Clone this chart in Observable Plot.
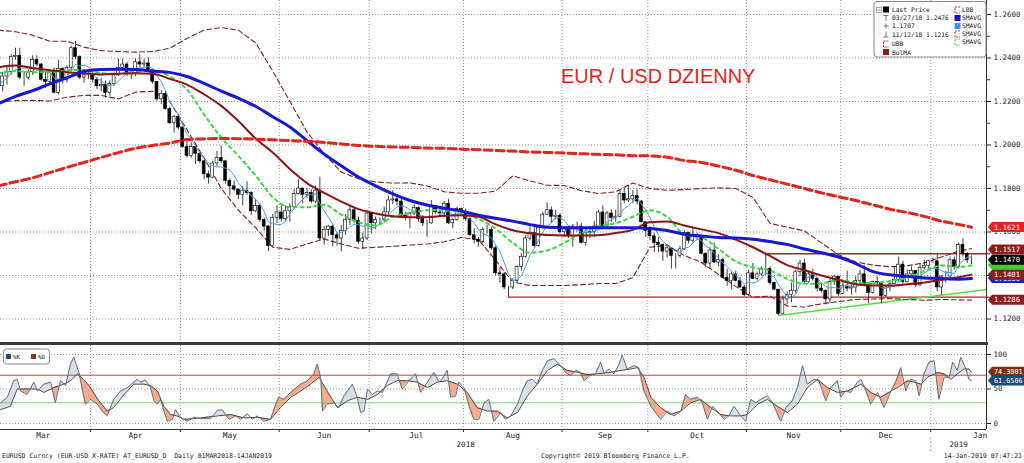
<!DOCTYPE html>
<html><head><meta charset="utf-8">
<script src="https://cdn.jsdelivr.net/npm/d3@7"></script>
<script src="https://cdn.jsdelivr.net/npm/@observablehq/plot@0.6"></script>
<style>
html,body{margin:0;padding:0;background:#fff}
#wrap{position:relative;width:1024px;height:463px;overflow:hidden;background:#fff}
.abs{position:absolute}
#title{left:561px;top:66px;font:20px/20px "Liberation Sans",Arial,sans-serif;color:#e3241b;white-space:nowrap}
.foot{top:451px;font:6.5px/10px "DejaVu Sans Mono",monospace;color:#222;white-space:nowrap}
</style></head>
<body><div id="wrap">
<div id="main" class="abs" style="left:0;top:0"></div>
<div class="abs" style="left:0;top:342px;width:988px;height:3px;background:#3d3d3d"></div>
<div id="stoch" class="abs" style="left:0;top:345px"></div>
<div id="title" class="abs">EUR / USD DZIENNY</div>
<svg class="abs" style="left:870px;top:0" width="122" height="60" font-family="DejaVu Sans Mono" font-size="6.3" fill="#111" text-anchor="start">
 <rect x="4" y="1.5" width="112" height="55.5" rx="3" fill="#fff" stroke="#8a8a8a"/>
 <rect x="6.5" y="7.5" width="5" height="5" fill="#fff" stroke="#888" stroke-width="0.7"/>
 <line x1="7.5" y1="10" x2="10.5" y2="10" stroke="#555" stroke-width="0.7"/>
 <path d="M9 12.5 V37" stroke="#bbb" stroke-dasharray="1,1" stroke-width="0.6"/>
 <rect x="13" y="6.5" width="6" height="6" fill="#000"/>
 <text x="22" y="12">Last Price</text>
 <g stroke="#555" stroke-width="0.8" fill="none"><path d="M13.5 15.5 H18.5 M16 15.5 V21"/><path d="M13.5 26 H18.5 M16 23.5 V28.5"/><path d="M13.5 37 H18.5 M16 31.5 V37"/></g>
 <text x="22" y="20">03/27/18 1.2476</text>
 <text x="22" y="28">1.1707</text>
 <text x="22" y="37">11/12/18 1.1216</text>
 <path d="M18.5 41 H13.5 V47 H18.5" fill="none" stroke="#8b2323" stroke-dasharray="2,1" stroke-width="0.9"/>
 <text x="22" y="46">UBB</text>
 <rect x="13" y="49" width="6" height="6" fill="#8b1c1c"/>
 <text x="22" y="55">BolMA</text>
 <path d="M90 7 H85 V13 H90" fill="none" stroke="#8b2323" stroke-dasharray="2,1" stroke-width="0.9"/>
 <text x="92" y="12">LBB</text>
 <rect x="84.5" y="15" width="6" height="6" fill="#1515d0"/>
 <text x="92" y="20">SMAVG</text>
 <rect x="84.5" y="23" width="6" height="6" fill="#3399ee"/>
 <text x="92" y="28">SMAVG</text>
 <path d="M90 31 H85 V37 H90" fill="none" stroke="#e3231c" stroke-dasharray="2,1" stroke-width="0.9"/>
 <text x="92" y="36">SMAVG</text>
 <path d="M90 39 H85 V45 H90" fill="none" stroke="#44cc44" stroke-dasharray="2,1" stroke-width="0.9"/>
 <text x="92" y="44">SMAVG</text>
</svg>
<div class="abs foot" style="left:2px">EURUSD Curncy (EUR-USD X-RATE) AT_EURUSD_D&nbsp;&nbsp;Daily 01MAR2018-14JAN2019</div>
<div class="abs foot" style="left:541px">Copyright© 2019 Bloomberg Finance L.P.</div>
<div class="abs foot" style="right:2px">14-Jan-2019 07:47:21</div>
</div>
<script>
// ---------- DATA ----------
const monthLabels = ["Mar","Apr","May","Jun","Jul","Aug","Sep","Oct","Nov","Dec","Jan"];
const yearLabels = ["2018","2019"];
const priceTicks = [1.12,1.14,1.16,1.18,1.20,1.22,1.24,1.26];
const priceTickHidden = [1.14]; // label fully covered by price tags in the original
const priceMinorTicks = [1.13,1.15,1.17,1.19,1.21,1.23,1.25];
const stochTicks = [0,50,100];
const firstOpen = 1.2255;
const close = [
1.2270,1.2315,1.2335,1.2405,1.2410,1.2310,1.2310,1.2335,1.2390,1.2370,1.2300,1.2290,1.2335,1.2240,1.2350,1.2300,1.2355,1.2445,1.2405,1.2310,1.2320,1.2320,
1.2300,1.2270,1.2275,1.2240,1.2280,1.2320,1.2355,1.2370,1.2325,1.2330,1.2380,1.2370,1.2375,1.2345,1.2290,1.2210,1.2235,1.2165,1.2100,1.2130,1.2080,
1.1990,1.1950,1.1990,1.1960,1.1925,1.1865,1.1850,1.1915,1.1940,1.1925,1.1835,1.1810,1.1795,1.1770,1.1790,1.1780,1.1695,1.1720,1.1655,1.1625,1.1535,1.1665,1.1690,
1.1660,1.1695,1.1715,1.1775,1.1800,1.1770,1.1780,1.1740,1.1790,1.1570,1.1610,1.1625,1.1585,1.1570,1.1605,1.1655,1.1700,1.1650,1.1555,1.1570,1.1685,
1.1640,1.1655,1.1655,1.1690,1.1745,1.1750,1.1740,1.1675,1.1665,1.1685,1.1710,1.1660,1.1640,1.1640,1.1720,1.1690,1.1685,1.1730,1.1640,1.1655,1.1705,1.1690,
1.1660,1.1585,1.1565,1.1555,1.1610,1.1610,1.1525,1.1410,1.1405,1.1345,1.1345,1.1375,1.1440,1.1485,1.1570,1.1595,1.1535,1.1620,1.1680,1.1700,1.1670,1.1675,1.1600,
1.1620,1.1580,1.1625,1.1625,1.1550,1.1595,1.1600,1.1625,1.1690,1.1625,1.1685,1.1665,1.1670,1.1775,1.1745,1.1750,1.1765,1.1740,1.1645,1.1605,
1.1580,1.1550,1.1540,1.1510,1.1525,1.1490,1.1490,1.1520,1.1595,1.1560,1.1580,1.1575,1.1500,1.1455,1.1515,1.1460,1.1470,1.1390,1.1375,1.1405,1.1375,1.1345,1.1310,
1.1410,1.1385,1.1405,1.1430,1.1430,1.1365,1.1335,1.1223,1.1290,1.1310,1.1330,1.1415,1.1455,1.1370,1.1405,1.1385,1.1340,1.1330,1.1290,1.1370,1.1395,1.1315,
1.1350,1.1340,1.1345,1.1375,1.1405,1.1355,1.1320,1.1370,1.1365,1.1305,1.1345,1.1360,1.1380,1.1450,1.1370,1.1405,1.1420,1.1355,1.1435,1.1445,1.1465,
1.1465,1.1345,1.1395,1.1395,1.1470,1.1440,1.1540,1.1500,1.1470,1.1470];
const high = [
1.2290,1.2335,1.2365,1.2415,1.2445,1.2445,1.2340,1.2345,1.2410,1.2410,1.2375,1.2335,1.2345,1.2355,1.2390,1.2355,1.2365,1.2455,1.2476,1.2410,1.2340,1.2335,
1.2345,1.2310,1.2305,1.2295,1.2295,1.2335,1.2395,1.2395,1.2380,1.2345,1.2395,1.2415,1.2395,1.2400,1.2350,1.2290,1.2250,1.2245,1.2175,1.2135,1.2125,
1.2085,1.2015,1.2010,1.1995,1.1960,1.1930,1.1880,1.1925,1.1970,1.1995,1.1930,1.1845,1.1835,1.1800,1.1810,1.1830,1.1785,1.1750,1.1730,1.1665,1.1630,1.1680,1.1720,
1.1720,1.1720,1.1730,1.1795,1.1840,1.1800,1.1800,1.1795,1.1810,1.1852,1.1625,1.1630,1.1635,1.1600,1.1630,1.1680,1.1720,1.1710,1.1670,1.1595,1.1700,
1.1690,1.1670,1.1665,1.1715,1.1765,1.1790,1.1765,1.1750,1.1690,1.1690,1.1725,1.1715,1.1675,1.1655,1.1745,1.1720,1.1715,1.1740,1.1750,1.1660,1.1715,1.1710,
1.1705,1.1665,1.1615,1.1575,1.1620,1.1630,1.1620,1.1535,1.1435,1.1415,1.1350,1.1385,1.1445,1.1500,1.1585,1.1625,1.1625,1.1630,1.1690,1.1735,1.1715,1.1700,1.1685,
1.1625,1.1625,1.1635,1.1645,1.1640,1.1610,1.1625,1.1650,1.1700,1.1720,1.1695,1.1700,1.1700,1.1790,1.1800,1.1815,1.1790,1.1795,1.1745,1.1645,
1.1625,1.1595,1.1575,1.1545,1.1535,1.1510,1.1500,1.1535,1.1605,1.1600,1.1620,1.1595,1.1580,1.1505,1.1530,1.1550,1.1495,1.1480,1.1430,1.1415,1.1420,1.1390,1.1355,
1.1425,1.1455,1.1415,1.1440,1.1500,1.1440,1.1370,1.1335,1.1305,1.1325,1.1365,1.1425,1.1470,1.1475,1.1420,1.1430,1.1390,1.1360,1.1335,1.1385,1.1400,1.1395,
1.1380,1.1420,1.1355,1.1395,1.1425,1.1445,1.1365,1.1375,1.1395,1.1370,1.1355,1.1370,1.1440,1.1485,1.1465,1.1425,1.1440,1.1420,1.1455,1.1470,1.1470,
1.1480,1.1495,1.1400,1.1420,1.1485,1.1485,1.1550,1.1570,1.1505,1.1490];
const low = [
1.2215,1.2245,1.2275,1.2320,1.2390,1.2300,1.2270,1.2300,1.2320,1.2360,1.2295,1.2260,1.2275,1.2235,1.2230,1.2280,1.2285,1.2340,1.2395,1.2300,1.2285,1.2300,
1.2285,1.2255,1.2245,1.2215,1.2225,1.2270,1.2315,1.2340,1.2315,1.2300,1.2315,1.2355,1.2355,1.2335,1.2280,1.2200,1.2185,1.2160,1.2095,1.2055,1.2070,
1.1985,1.1940,1.1940,1.1910,1.1915,1.1840,1.1820,1.1845,1.1900,1.1915,1.1820,1.1765,1.1785,1.1750,1.1720,1.1770,1.1675,1.1690,1.1645,1.1605,1.1510,1.1535,1.1640,
1.1645,1.1645,1.1645,1.1705,1.1770,1.1730,1.1755,1.1730,1.1730,1.1560,1.1540,1.1580,1.1530,1.1535,1.1510,1.1585,1.1630,1.1640,1.1545,1.1525,1.1560,
1.1590,1.1610,1.1630,1.1640,1.1680,1.1725,1.1720,1.1670,1.1650,1.1615,1.1675,1.1645,1.1625,1.1575,1.1635,1.1680,1.1670,1.1665,1.1635,1.1615,1.1650,1.1680,
1.1650,1.1580,1.1545,1.1530,1.1545,1.1590,1.1515,1.1400,1.1365,1.1335,1.1301,1.1335,1.1365,1.1420,1.1480,1.1560,1.1530,1.1530,1.1610,1.1675,1.1640,1.1655,1.1590,
1.1575,1.1570,1.1530,1.1600,1.1545,1.1535,1.1570,1.1575,1.1615,1.1620,1.1625,1.1645,1.1645,1.1665,1.1730,1.1735,1.1730,1.1725,1.1640,1.1575,
1.1560,1.1505,1.1505,1.1465,1.1480,1.1430,1.1430,1.1480,1.1515,1.1545,1.1550,1.1560,1.1495,1.1435,1.1430,1.1455,1.1440,1.1385,1.1350,1.1335,1.1370,1.1340,1.1302,
1.1305,1.1380,1.1375,1.1395,1.1400,1.1355,1.1330,1.1216,1.1220,1.1265,1.1275,1.1315,1.1395,1.1360,1.1365,1.1375,1.1325,1.1320,1.1265,1.1270,1.1355,1.1305,
1.1315,1.1325,1.1310,1.1320,1.1365,1.1350,1.1270,1.1315,1.1355,1.1270,1.1300,1.1325,1.1360,1.1370,1.1360,1.1365,1.1390,1.1345,1.1350,1.1425,1.1425,
1.1455,1.1325,1.1310,1.1365,1.1375,1.1425,1.1430,1.1485,1.1455,1.1450];

// indicator lines sampled every 4 trading days (trading-day index)
const maDays = [0,4,8,12,16,20,24,28,32,36,40,44,48,52,56,60,64,68,72,76,80,84,88,92,96,100,104,108,112,116,120,124,128,132,136,140,144,148,152,156,160,164,168,172,176,180,184,188,192,196,200,204,208,212,216,220,224,227];
const sma50 = [1.2190,1.2224,1.2250,1.2281,1.2309,1.2338,1.2347,1.2348,1.2347,1.2340,1.2334,1.2315,1.2283,1.2248,1.2215,1.2178,1.2130,1.2083,1.2020,1.1958,1.1905,1.1853,1.1812,1.1775,1.1745,1.1724,1.1709,1.1697,1.1677,1.1663,1.1650,1.1634,1.1622,1.1620,1.1620,1.1620,1.1620,1.1620,1.1616,1.1607,1.1590,1.1582,1.1575,1.1573,1.1567,1.1556,1.1543,1.1522,1.1505,1.1485,1.1455,1.1418,1.1403,1.1396,1.1389,1.1386,1.1383,1.1386];
const sma200 = [1.1812,1.1831,1.1849,1.1873,1.1897,1.1920,1.1943,1.1965,1.1985,1.1998,1.2009,1.2025,1.2028,1.2030,1.2029,1.2027,1.2024,1.2020,1.2017,1.2012,1.2005,1.1998,1.1994,1.1991,1.1989,1.1986,1.1985,1.1981,1.1978,1.1975,1.1972,1.1968,1.1966,1.1963,1.1960,1.1957,1.1955,1.1951,1.1950,1.1944,1.1929,1.1920,1.1903,1.1884,1.1860,1.1840,1.1820,1.1800,1.1780,1.1762,1.1745,1.1725,1.1705,1.1690,1.1672,1.1650,1.1635,1.1622];
const bolMA = [1.2357,1.2365,1.2354,1.2344,1.2335,1.2329,1.2324,1.2328,1.2330,1.2328,1.2304,1.2278,1.2233,1.2180,1.2110,1.2030,1.1965,1.1890,1.1825,1.1780,1.1740,1.1705,1.1685,1.1672,1.1668,1.1668,1.1675,1.1677,1.1670,1.1635,1.1608,1.1594,1.1586,1.1584,1.1584,1.1585,1.1595,1.1610,1.1645,1.1648,1.1630,1.1612,1.1595,1.1565,1.1530,1.1490,1.1448,1.1425,1.1400,1.1380,1.1360,1.1354,1.1354,1.1360,1.1368,1.1380,1.1392,1.1404];
const ubb = [1.2528,1.2521,1.2505,1.2477,1.2477,1.2450,1.2434,1.2430,1.2427,1.2430,1.2445,1.2490,1.2528,1.2540,1.2528,1.2470,1.2340,1.2200,1.2060,1.1960,1.1875,1.1845,1.1830,1.1825,1.1826,1.1812,1.1785,1.1778,1.1778,1.1788,1.1858,1.1835,1.1815,1.1814,1.1790,1.1777,1.1785,1.1825,1.1800,1.1792,1.1795,1.1800,1.1803,1.1800,1.1760,1.1640,1.1622,1.1605,1.1550,1.1495,1.1462,1.1448,1.1440,1.1445,1.1458,1.1485,1.1512,1.1524];
const lbb = [1.2197,1.2204,1.2205,1.2202,1.2220,1.2228,1.2228,1.2212,1.2243,1.2247,1.2200,1.2070,1.1940,1.1800,1.1700,1.1620,1.1530,1.1520,1.1545,1.1568,1.1545,1.1525,1.1530,1.1534,1.1540,1.1545,1.1555,1.1575,1.1565,1.1470,1.1370,1.1354,1.1354,1.1354,1.1358,1.1363,1.1363,1.1390,1.1530,1.1540,1.1492,1.1460,1.1405,1.1350,1.1300,1.1305,1.1260,1.1255,1.1270,1.1280,1.1290,1.1292,1.1294,1.1290,1.1286,1.1290,1.1288,1.1287];
const sma10 = [1.2330,1.2340,1.2335,1.2335,1.2343,1.2345,1.2330,1.2327,1.2335,1.2343,1.2315,1.2255,1.2140,1.2035,1.1950,1.1860,1.1760,1.1714,1.1714,1.1725,1.1680,1.1645,1.1630,1.1670,1.1688,1.1700,1.1702,1.1690,1.1660,1.1615,1.1550,1.1505,1.1515,1.1550,1.1595,1.1628,1.1640,1.1670,1.1700,1.1670,1.1590,1.1576,1.1522,1.1465,1.1437,1.1423,1.1385,1.1362,1.1364,1.1380,1.1368,1.1365,1.1375,1.1390,1.1420,1.1446,1.1440,1.1446];

// support / resistance and trend line
const levelStartDays = [179, 119];
const levelValues = [1.1500, 1.1301];
const trendDays = [182, 230.5];
const trendValues = [1.1216, 1.1336];

// right-hand price tags [value, colour, label shown], in drawing order
const priceTags = [[1.1621,"#e3231c",true],[1.1517,"#8c1d1d",true],[1.1446,"#3fcf3f",false],[1.1386,"#1f1fd0",true],[1.1470,"#000000",true],[1.1401,"#8c1d1d",true],[1.1286,"#8c1d1d",true]];
const stochTags = [[74.3001,"#7a2e12",true],[61.6506,"#1c4a78",true]];

// stochastic %K and %D, [trading-day index, value]
const stochK = [[0.5,30],[2.1,38],[3.6,62],[4.4,64],[5.2,47],[6.7,42],[8.3,60],[9.1,47],[10.6,57],[12.2,60],[13.3,30],[14.5,62],[15.7,55],[16.8,86],[17.6,96],[18.8,74],[20.3,28],[21.5,35],[23.1,28],[24.2,18],[25.4,11],[26.9,35],[28.5,47],[30.1,52],[32.4,64],[33.2,60],[34.3,63],[35.5,52],[36.3,33],[37.1,28],[37.8,35],[39.4,3],[40.6,6],[41.3,20],[42.5,9],[44.1,3],[45.6,9],[47.2,7],[49.5,7],[51.1,19],[52.2,20],[53.8,6],[55.3,11],[56.5,6],[58.1,14],[59.2,6],[60.4,11],[61.9,3],[63.5,6],[64.7,28],[65.4,38],[66.6,35],[68.2,45],[70.5,57],[72.1,62],[73.6,72],[74.4,86],[75.2,67],[75.6,18],[76.7,28],[78.3,30],[79.4,23],[80.6,40],[82.6,57],[83.7,38],[84.5,16],[85.3,18],[86.1,50],[87.2,42],[88.4,47],[89.6,45],[91.5,72],[93.0,72],[94.2,50],[95.8,62],[97.3,72],[98.5,45],[100.1,60],[101.6,74],[102.8,60],[103.5,64],[104.7,77],[105.5,38],[106.7,40],[107.4,60],[108.6,52],[109.8,25],[110.9,6],[112.1,6],[113.3,30],[114.4,35],[115.6,3],[117.2,16],[118.3,6],[119.5,11],[121.1,28],[122.2,47],[123.4,62],[124.6,64],[125.7,57],[126.9,77],[128.1,91],[129.6,94],[131.2,84],[132.3,74],[133.5,69],[134.7,77],[135.8,74],[136.6,62],[137.8,69],[139.3,72],[140.5,89],[141.3,72],[142.4,79],[143.6,72],[144.8,86],[145.5,99],[146.7,79],[148.3,84],[149.4,81],[150.6,47],[152.2,25],[154.5,6],[156.1,18],[157.6,11],[159.2,18],[160.3,42],[161.5,35],[163.1,38],[164.2,30],[165.4,6],[166.6,25],[167.7,18],[169.3,6],[170.4,11],[171.6,25],[173.2,11],[174.3,3],[175.5,35],[176.7,30],[177.8,35],[179.4,40],[180.6,30],[182.5,3],[183.7,23],[185.2,33],[186.4,52],[187.6,84],[188.7,57],[190.3,64],[191.4,62],[193.0,33],[194.2,52],[195.7,62],[196.5,38],[197.6,47],[198.8,45],[200.4,60],[201.2,64],[201.9,55],[203.5,28],[205.1,45],[206.6,23],[208.2,47],[209.3,60],[210.5,81],[211.7,47],[212.8,64],[214.0,62],[214.8,40],[215.9,72],[217.1,89],[218.3,91],[219.4,35],[220.6,67],[221.8,67],[222.6,89],[223.7,77],[224.5,96],[225.7,79],[226.4,64],[227,61.65]];
const stochD = [[0.5,20],[2.8,25],[4.4,50],[6.7,50],[9.1,50],[10.6,45],[12.9,52],[15.3,57],[16.8,62],[18.5,72],[19.9,64],[21.5,52],[23.4,33],[25.4,18],[26.9,23],[29.3,42],[31.6,57],[33.9,57],[35.5,55],[37.1,47],[38.6,25],[40.2,13],[41.7,11],[43.3,6],[45.6,7],[47.2,8],[51.1,11],[54.2,13],[57.3,8],[60.4,9],[63.5,6],[65.8,23],[68.2,38],[70.5,47],[72.8,57],[74.8,67],[76.7,47],[79.1,23],[81.4,33],[83.7,38],[86.1,35],[88.4,42],[90.7,55],[93.0,62],[95.4,62],[97.7,60],[100.1,52],[102.4,60],[104.7,62],[107.1,57],[109.4,45],[111.7,23],[114.1,18],[116.4,18],[118.7,8],[121.1,16],[123.4,40],[125.7,57],[128.1,77],[130.4,86],[132.7,77],[135.1,74],[137.4,71],[139.7,72],[142.8,74],[145.2,77],[147.5,79],[149.1,81],[150.6,67],[152.2,38],[154.5,23],[156.8,13],[159.2,18],[161.5,30],[163.8,35],[166.2,23],[168.5,13],[170.8,11],[173.2,11],[174.7,13],[177.1,28],[179.4,35],[181.7,25],[184.1,16],[186.4,28],[188.7,52],[191.1,64],[193.4,52],[195.7,45],[198.1,47],[201.2,57],[203.5,45],[205.8,38],[208.2,47],[209.7,52],[212.1,62],[213.6,60],[215.2,57],[216.7,67],[219.1,74],[220.6,72],[222.2,64],[223.7,72],[225.2,79],[226.4,79],[227,74.3]];

// ---------- BUILD ----------
const days = d3.utcDays(new Date(Date.UTC(2018,2,1)), new Date(Date.UTC(2019,0,15))).filter(d => d.getUTCDay() % 6 !== 0);
const candles = close.map((c, i) => ({i, open: i ? close[i-1] : firstOpen, close: c, high: high[i], low: low[i]}));
const monthKey = d => d.getUTCFullYear()*12 + d.getUTCMonth();
const months = [];
days.forEach((d, i) => { const k = monthKey(d); if (!months.length || months[months.length-1].k !== k) months.push({k, first: i, date: d}); });
months.forEach((m, j) => {
  const y = m.date.getUTCFullYear(), mo = m.date.getUTCMonth();
  const n = d3.utcDays(new Date(Date.UTC(y,mo,1)), new Date(Date.UTC(y,mo+1,1))).filter(d => d.getUTCDay() % 6 !== 0).length;
  m.c = m.first + (n - 1) / 2; m.label = monthLabels[j];
});
const monthBounds = months.slice(1).map(m => m.first - 0.5);
const xDom = [0.5, 230.5];
const yearBoundary = months[months.length-1].first - 0.5;
const yearInfo = [{c: (xDom[0] + yearBoundary)/2, label: yearLabels[0]}, {c: (yearBoundary + xDom[1])/2, label: yearLabels[1]}];

const maRows = maDays.map((d, i) => ({d, sma50: sma50[i], sma200: sma200[i], bol: bolMA[i], ubb: ubb[i], lbb: lbb[i], sma10: sma10[i]}));
const levels = levelStartDays.map((d, i) => ({from: d, v: levelValues[i]}));
const trend = trendDays.map((d, i) => ({d, v: trendValues[i]}));

const yDom = [1.10920, 1.26644];
const grid = {stroke: "#9a9a9a", strokeDasharray: "1,2"};
const font = {fontFamily: "DejaVu Sans Mono, monospace", fontSize: "7.5px", background: "transparent", overflow: "visible", color: "#222"};
const fmt4 = d3.format(".4f");

const main = Plot.plot({
  width: 1024, height: 342, marginLeft: 0, marginRight: 38, marginTop: 0, marginBottom: 0,
  x: {domain: xDom, axis: null}, y: {domain: yDom, axis: null}, style: font,
  marks: [
    Plot.ruleY(priceTicks, grid),
    Plot.ruleX(monthBounds, grid),
    Plot.ruleY(levels, {y: "v", x1: "from", x2: () => xDom[1], stroke: "#a32626", strokeWidth: 1.3}),
    Plot.line(trend, {x: "d", y: "v", stroke: "#55dd44", strokeWidth: 1.5}),
    Plot.line(maRows, {x: "d", y: "ubb", stroke: "#7b2323", strokeWidth: 1.1, strokeDasharray: "5,3"}),
    Plot.line(maRows, {x: "d", y: "lbb", stroke: "#7b2323", strokeWidth: 1.1, strokeDasharray: "5,3"}),
    Plot.ruleX(candles, {x: "i", y1: "low", y2: "high", stroke: "#111", strokeWidth: 0.8}),
    Plot.rect(candles, {x1: d => d.i - 0.34, x2: d => d.i + 0.34, y1: "open", y2: "close", fill: d => d.close >= d.open ? "#ffffff" : "#000000", stroke: "#000", strokeWidth: 0.6}),
    Plot.lineY(candles, Plot.windowY({k: 5, anchor: "end", reduce: "mean"}, {x: "i", y: "close", stroke: "#4a9fe0", strokeWidth: 1})),
    Plot.line(maRows, {x: "d", y: "sma10", stroke: "#33dd33", strokeWidth: 2, strokeDasharray: "3,4", curve: "monotone-x"}),
    Plot.line(maRows, {x: "d", y: "bol", stroke: "#8b1515", strokeWidth: 2, curve: "monotone-x"}),
    Plot.line(maRows, {x: "d", y: "sma50", stroke: "#1717d6", strokeWidth: 3, curve: "monotone-x"}),
    Plot.line(maRows, {x: "d", y: "sma200", stroke: "#e3231c", strokeWidth: 3, strokeDasharray: "8,4", curve: "monotone-x"}),
    Plot.axisY(priceMinorTicks, {anchor: "right", tickSize: 3, tickFormat: () => "", color: "#333"}),
    Plot.axisY(priceTicks, {anchor: "right", tickSize: 4, tickPadding: 3, tickFormat: v => priceTickHidden.includes(v) ? "" : fmt4(v), color: "#222"}),
    Plot.ruleX([xDom[1]], {stroke: "#333"})
  ]
});
document.getElementById("main").appendChild(main);

function addTags(plot, tags, fs) {
  const svg = d3.select(plot), yS = plot.scale("y"), xr = plot.scale("x").apply(xDom[1]);
  tags.forEach(([v, c, show]) => {
    const cy = yS.apply(v);
    const g = svg.append("g");
    g.append("path").attr("d", `M${xr+2},${cy} L${xr+6},${cy-5} H1024 V${cy+5} H${xr+6} Z`).attr("fill", c);
    if (show) g.append("text").attr("x", xr + 8).attr("y", cy).attr("dy", "0.36em").attr("fill", "#fff").attr("text-anchor", "start")
      .attr("font-size", fs).attr("font-family", "DejaVu Sans Mono, monospace").text(fmt4(v));
  });
}
addTags(main, priceTags, 7.2);

// ---------- STOCHASTIC ----------
const kRows = stochK.map(([d, v]) => ({d, v}));
const dRows = stochD.map(([d, v]) => ({d, v}));
function at(pts, x) {
  const j = d3.bisector(p => p.d).left(pts, x);
  if (j <= 0) return pts[0].v;
  if (j >= pts.length) return pts[pts.length-1].v;
  const a = pts[j-1], b = pts[j];
  return b.d === a.d ? b.v : a.v + (b.v - a.v) * (x - a.d) / (b.d - a.d);
}
const lo = Math.max(kRows[0].d, dRows[0].d), hi = Math.min(kRows[kRows.length-1].d, dRows[dRows.length-1].d);
const xsU = Array.from(new Set([...kRows.map(p => p.d), ...dRows.map(p => p.d)])).filter(x => x >= lo && x <= hi).sort((a, b) => a - b);
const fillRows = []; let run = 0, prev = null; const runSign = {};
for (const x of xsU) {
  const p = {x, k: at(kRows, x), d: at(dRows, x)};
  const s = Math.sign(p.k - p.d);
  if (prev) {
    const ps = Math.sign(prev.k - prev.d);
    if (ps && s && ps !== s) {
      const t = (prev.k - prev.d) / ((prev.k - prev.d) - (p.k - p.d));
      const cx = prev.x + t * (p.x - prev.x), cv = prev.k + t * (p.k - prev.k);
      fillRows.push({x: cx, k: cv, d: cv, run});
      run++;
      fillRows.push({x: cx, k: cv, d: cv, run});
    }
  }
  if (s && runSign[run] === undefined) runSign[run] = s;
  fillRows.push({...p, run});
  prev = p;
}
fillRows.forEach(r => r.fill = (runSign[r.run] || 1) > 0 ? "#d8dfe8" : "#f6a98d");

const sDom = [-8.7, 113.04];
const stoch = Plot.plot({
  width: 1024, height: 105, marginLeft: 0, marginRight: 38, marginTop: 0, marginBottom: 21,
  x: {domain: xDom, axis: null}, y: {domain: sDom, axis: null}, style: font,
  marks: [
    Plot.ruleY(stochTicks, grid),
    Plot.ruleX(monthBounds, grid),
    Plot.areaY(fillRows, {x: "x", y1: "k", y2: "d", z: "run", fill: "fill"}),
    Plot.ruleY([70], {stroke: "#b5473f"}),
    Plot.ruleY([30], {stroke: "#7ccf6a"}),
    Plot.line(dRows, {x: "d", y: "v", stroke: "#3b2f2f", strokeWidth: 0.9}),
    Plot.line(kRows, {x: "d", y: "v", stroke: "#5f7182", strokeWidth: 1}),
    Plot.axisY(stochTicks, {anchor: "right", tickSize: 4, tickPadding: 3, color: "#222"}),
    Plot.ruleX([xDom[1]], {stroke: "#333"}),
    Plot.ruleY([sDom[0]], {stroke: "#333", strokeWidth: 1.2}),
    Plot.ruleX(monthBounds, {y1: () => sDom[0], y2: () => sDom[0] - 4.5, stroke: "#333"}),
    Plot.ruleX([yearBoundary], {y1: () => sDom[0] - 12, y2: () => sDom[0] - 32, stroke: "#999", strokeDasharray: "2,2"}),
    Plot.text(months, {x: "c", text: "label", frameAnchor: "bottom", dy: 8, fontSize: 7.8, fill: "#222"}),
    Plot.text(yearInfo, {x: "c", text: "label", frameAnchor: "bottom", dy: 17, fontSize: 7.5, fill: "#222"})
  ]
});
document.getElementById("stoch").appendChild(stoch);
addTags(stoch, stochTags, 6.8);

// stochastic legend
const lg = d3.select(stoch).append("g").attr("font-family", "DejaVu Sans Mono, monospace").attr("font-size", 6).attr("text-anchor", "start");
lg.append("rect").attr("x", 3.5).attr("y", 4).attr("width", 46).attr("height", 15).attr("rx", 3).attr("fill", "#fff").attr("stroke", "#8a8a8a");
lg.append("rect").attr("x", 6).attr("y", 9).attr("width", 5).attr("height", 5).attr("fill", "#1c4a78");
lg.append("text").attr("x", 13).attr("y", 13.8).attr("fill", "#222").text("%K");
lg.append("rect").attr("x", 31).attr("y", 9).attr("width", 5).attr("height", 5).attr("fill", "#8b3a1a");
lg.append("text").attr("x", 38).attr("y", 13.8).attr("fill", "#222").text("%D");
</script>
</body></html>
